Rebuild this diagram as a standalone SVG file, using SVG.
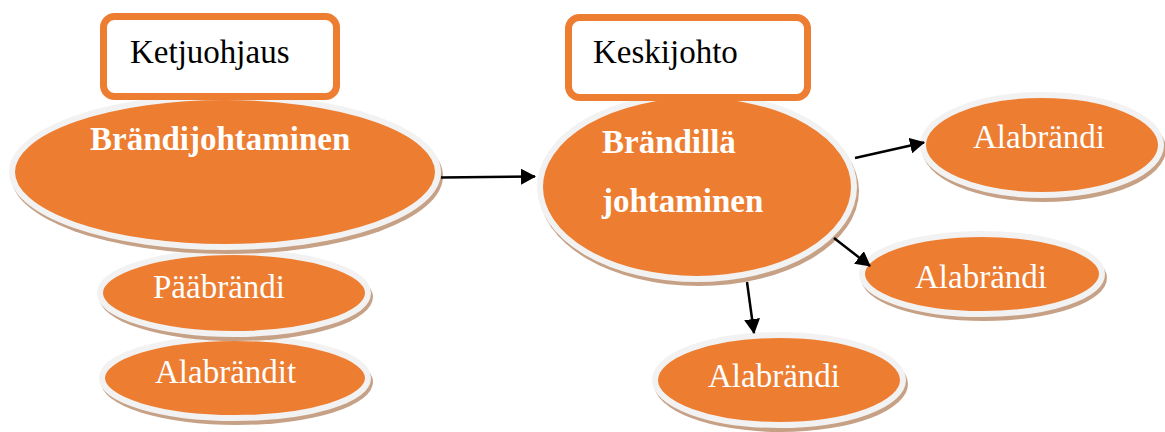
<svg xmlns="http://www.w3.org/2000/svg" width="1165" height="432" viewBox="0 0 1165 432">
<style>
.sh{fill:#C6A186}
.el{fill:#ED7D31;stroke:#F2F2F2;stroke-width:6}
.bx{fill:#FFFFFF;stroke:#ED7D31;stroke-width:7}
.t{font-family:"Liberation Serif","Times New Roman",serif;font-size:33px}
.w{fill:#FFFFFF}
.b{font-weight:bold}
.k{fill:#000000}
.c{stroke:#000000;stroke-width:2.5;fill:none;marker-end:url(#ah)}
</style>
<defs>
<marker id="ah" viewBox="0 0 15 16" refX="14" refY="8" markerWidth="15" markerHeight="16" orient="auto" markerUnits="userSpaceOnUse">
<path d="M0,0 L15,8 L0,16 z" fill="#000000"/>
</marker>
</defs>
<rect width="1165" height="432" fill="#FFFFFF"/>
<g id="alabrandit">
<ellipse class="sh" cx="237" cy="382" rx="136" ry="43"/>
<ellipse class="el" cx="235" cy="378" rx="133" ry="40"/>
<text class="t w" x="155" y="383">Alabrändit</text>
</g>
<g id="paabrandi">
<ellipse class="sh" cx="236" cy="297" rx="137" ry="44"/>
<ellipse class="el" cx="234" cy="293" rx="134" ry="41"/>
<text class="t w" x="153" y="298">Pääbrändi</text>
</g>
<g id="brandijohtaminen">
<ellipse class="sh" cx="227" cy="176" rx="216" ry="78"/>
<ellipse class="el" cx="225" cy="172" rx="213" ry="75"/>
<text class="t w b" x="90" y="150">Brändijohtaminen</text>
</g>
<g id="ketjuohjaus">
<rect class="bx" x="103.5" y="16.5" width="233" height="80" rx="11"/>
<text class="t k" x="130" y="63">Ketjuohjaus</text>
</g>
<g id="brandilla">
<ellipse class="sh" cx="699" cy="191" rx="160" ry="95"/>
<ellipse class="el" cx="697" cy="187" rx="157" ry="92"/>
<text class="t w b" x="602" y="153">Brändillä</text>
<text class="t w b" x="602" y="212">johtaminen</text>
</g>
<g id="keskijohto">
<rect class="bx" x="568.5" y="17.5" width="239" height="80" rx="11"/>
<text class="t k" x="593" y="63">Keskijohto</text>
</g>
<g id="alabrandi1">
<ellipse class="sh" cx="1044" cy="149" rx="122" ry="53"/>
<ellipse class="el" cx="1042" cy="145" rx="119" ry="50"/>
<text class="t w" x="973" y="148">Alabrändi</text>
</g>
<g id="alabrandi2">
<ellipse class="sh" cx="984" cy="278" rx="123" ry="43"/>
<ellipse class="el" cx="982" cy="274" rx="120" ry="40"/>
<text class="t w" x="915" y="288">Alabrändi</text>
</g>
<g id="alabrandi3">
<ellipse class="sh" cx="781" cy="384" rx="127" ry="48"/>
<ellipse class="el" cx="779" cy="380" rx="124" ry="45"/>
<text class="t w" x="708" y="387">Alabrändi</text>
</g>
<g id="connectors">
<line class="c" x1="441" y1="177.5" x2="535" y2="176.5"/>
<line class="c" x1="855" y1="158" x2="924" y2="142.5"/>
<line class="c" x1="834" y1="238" x2="870" y2="266"/>
<line class="c" x1="747" y1="282" x2="754" y2="333"/>
</g>
</svg>
